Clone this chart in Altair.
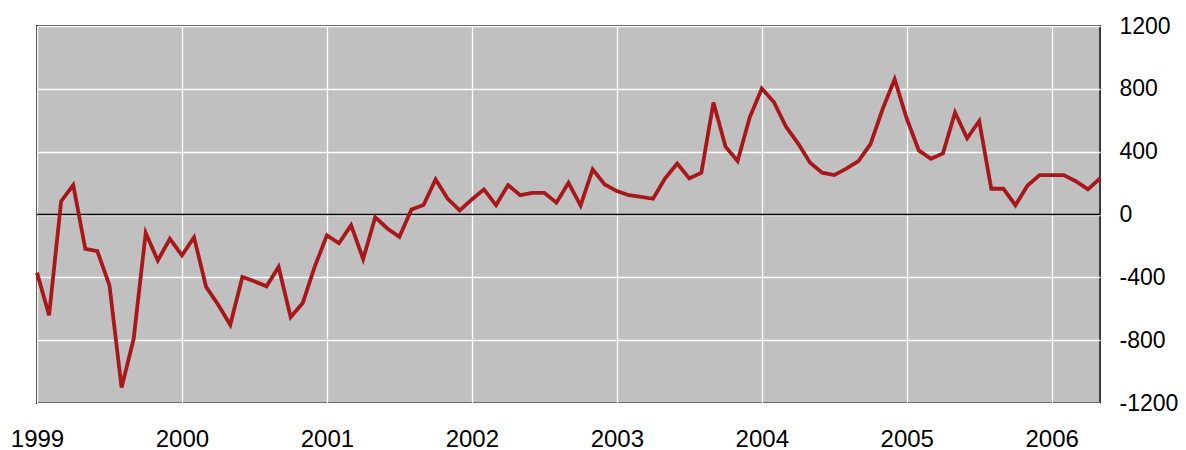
import altair as alt
import pandas as pd

# monthly values, Jan 1999 .. May 2006
v1999 = [-370, -642, 85, 187, -219, -234, -451, -1102, -793, -117, -293, -155]
v2000 = [-260, -145, -461, -574, -702, -398, -425, -457, -334, -653, -563, -330]
v2001 = [-133, -183, -68, -283, -17, -89, -142, 32, 60, 223, 100, 26]
v2002 = [96, 160, 60, 187, 123, 138, 138, 75, 202, 57, 287, 191]
v2003 = [149, 123, 112, 100, 230, 325, 230, 266, 713, 432, 340, 617]
v2004 = [802, 716, 560, 453, 330, 266, 251, 292, 340, 448, 670, 861]
v2005 = [611, 408, 355, 389, 649, 485, 595, 164, 164, 59, 185, 251]
v2006 = [251, 251, 212, 160, 230]

values = v1999 + v2000 + v2001 + v2002 + v2003 + v2004 + v2005 + v2006
years = [1999, 2000, 2001, 2002, 2003, 2004, 2005, 2006]
y_ticks = [-1200, -800, -400, 0, 400, 800, 1200]

data = pd.DataFrame({
    "t": [1999 + i / 12 for i in range(len(values))],
    "value": values,
})

x_scale = alt.Scale(domain=[1999, data["t"].max()], nice=False, zero=False)
y_scale = alt.Scale(domain=[-1200, 1200], nice=False)

x_axis = alt.Axis(values=years, labelExpr="'' + datum.value", title=None, grid=True,
                  gridColor="white", gridWidth=1.3, ticks=False, domain=False,
                  labelFontSize=24, labelFont="Liberation Sans", labelColor="black",
                  labelPadding=24, labelFlush=False, labelOverlap=False)
y_axis = alt.Axis(values=y_ticks, labelExpr="'' + datum.value", orient="right", title=None,
                  grid=True, gridColor="white", gridWidth=1.3, ticks=False, domain=False,
                  labelFontSize=23, labelFont="Liberation Sans", labelColor="black",
                  labelPadding=19, labelAlign="left", labelFlush=False, labelOverlap=False)

line = alt.Chart(data).mark_line(color="#a8181a", strokeWidth=3.8).encode(
    x=alt.X("t:Q", scale=x_scale, axis=x_axis),
    y=alt.Y("value:Q", scale=y_scale, axis=y_axis),
)

zero = alt.Chart(pd.DataFrame({"y": [0]})).mark_rule(color="black", strokeWidth=1.3).encode(
    y=alt.Y("y:Q", scale=y_scale)
)

# total svg width kept at 1170 so the page does not overflow the window
chart = alt.layer(zero, line).properties(
    width=1063,
    height=377,
    autosize="none",
    padding={"left": 29, "top": 18, "right": 78, "bottom": 50},
    background="white",
).configure_view(
    fill="#c0c0c0",
    stroke="#3a3a3a",
    strokeWidth=2,
)

chart.save("out.html", embed_options={"renderer": "svg", "actions": False})
